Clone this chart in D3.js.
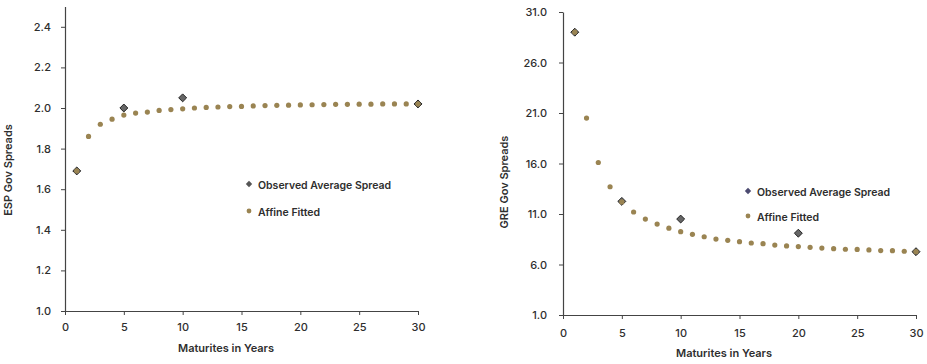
<!DOCTYPE html>
<html>
<head>
<meta charset="utf-8">
<script src="https://cdn.jsdelivr.net/npm/d3@7"></script>
<style>
  body { margin: 0; background: #fff; }
  svg { font-family: Inter, Roboto, "Noto Sans", sans-serif; }
</style>
</head>
<body>
<svg id="chart"></svg>
<script>
// maturities in years
const maturities = d3.range(1, 31);

// Spain
const espFitted = [1.69, 1.86, 1.92, 1.945, 1.965, 1.975, 1.98, 1.988, 1.992, 1.996,
    2.0, 2.003, 2.005, 2.007, 2.008, 2.01, 2.012, 2.013, 2.014, 2.015,
    2.016, 2.017, 2.018, 2.018, 2.019, 2.019, 2.02, 2.02, 2.02, 2.02];
const espObsMat = [1, 5, 10, 30];
const espObs = [1.69, 2.00, 2.05, 2.02];
const espTicks = [1.0, 1.2, 1.4, 1.6, 1.8, 2.0, 2.2, 2.4];

// Greece
const greFitted = [29.0, 20.5, 16.1, 13.7, 12.2, 11.2, 10.5, 10.0, 9.6, 9.25,
    8.99, 8.75, 8.52, 8.39, 8.26, 8.13, 8.06, 7.92, 7.84, 7.77,
    7.70, 7.63, 7.57, 7.51, 7.49, 7.44, 7.38, 7.37, 7.31, 7.27];
const greObsMat = [1, 5, 10, 20, 30];
const greObs = [29.0, 12.25, 10.5, 9.1, 7.27];
const greTicks = [1.0, 6.0, 11.0, 16.0, 21.0, 26.0, 31.0];

const xTicks = [0, 5, 10, 15, 20, 25, 30];
const legendLabels = ["Observed Average Spread", "Affine Fitted"];

const W = 927, H = 364;
const gold = "#9a8452";
const obsFill = "#666666";
const ink = "#2e2e2e";

const svg = d3.select("#chart").attr("width", W).attr("height", H);

function drawPanel(cfg) {
    const g = svg.append("g");

    const x = d3.scaleLinear().domain([0, 30]).range([cfg.left, cfg.right]);
    const y = d3.scaleLinear().domain(cfg.yDomain).range([cfg.bottom, cfg.top]);

    // axes
    const xAxis = g.append("g")
        .attr("transform", `translate(0,${cfg.bottom})`)
        .call(d3.axisBottom(x).tickValues(xTicks).tickSize(4).tickPadding(cfg.xPad).tickSizeOuter(0));
    const yAxis = g.append("g")
        .attr("transform", `translate(${cfg.left},0)`)
        .call(d3.axisLeft(y).tickValues(cfg.ticks).tickFormat(d3.format(".1f"))
            .tickSize(4).tickPadding(cfg.tickPad).tickSizeOuter(0));

    [xAxis, yAxis].forEach(a => {
        a.select(".domain").attr("stroke", "#444").attr("stroke-width", 1.2);
        a.selectAll(".tick line").attr("stroke", "#444");
        a.selectAll("text")
            .attr("fill", ink)
            .attr("font-size", 11)
            .attr("font-weight", 500)
            .attr("font-family", "Inter, sans-serif");
    });

    // axis titles
    g.append("text")
        .attr("x", cfg.xTitleX)
        .attr("y", cfg.xTitleY)
        .attr("text-anchor", "middle")
        .attr("font-size", 11)
        .attr("font-weight", 600)
        .attr("fill", ink)
        .text("Maturites in Years");

    g.append("text")
        .attr("transform", `translate(${cfg.yTitleX},${cfg.yTitleY}) rotate(-90)`)
        .attr("text-anchor", "middle")
        .attr("font-size", 11)
        .attr("font-weight", 600)
        .attr("fill", ink)
        .text(cfg.yTitle);

    const diamond = d3.symbol().type(d3.symbolDiamond2).size(40);

    // observed
    g.append("g")
        .selectAll("path")
        .data(cfg.obsMat.map((m, i) => [m, cfg.obs[i]]))
        .join("path")
        .attr("d", diamond)
        .attr("transform", d => `translate(${x(d[0])},${y(d[1])})`)
        .attr("fill", obsFill)
        .attr("stroke", "#222")
        .attr("stroke-width", 1);

    // fitted
    g.append("g")
        .selectAll("circle")
        .data(maturities.map((m, i) => [m, cfg.fitted[i]]))
        .join("circle")
        .attr("cx", d => x(d[0]))
        .attr("cy", d => y(d[1]))
        .attr("r", 2.6)
        .attr("fill", gold);

    // legend
    const lg = g.append("g").attr("transform", `translate(${cfg.legX},${cfg.legY})`);
    lg.append("path")
        .attr("d", d3.symbol().type(d3.symbolDiamond2).size(26))
        .attr("fill", cfg.legObsColor);
    lg.append("circle")
        .attr("cy", cfg.legGap)
        .attr("r", 2.4)
        .attr("fill", gold);
    lg.selectAll("text")
        .data(legendLabels)
        .join("text")
        .attr("x", 9)
        .attr("y", (d, i) => i * cfg.legGap + 5)
        .attr("font-size", 10.5)
        .attr("font-weight", 600)
        .attr("fill", ink)
        .text(d => d);
}

drawPanel({
    left: 65, right: 418, top: 6.5, bottom: 311,
    yDomain: [1.0, 2.5], ticks: espTicks, tickPad: 10, xPad: 8,
    fitted: espFitted, obsMat: espObsMat, obs: espObs,
    yTitle: "ESP Gov Spreads", yTitleX: 12, yTitleY: 170,
    xTitleX: 226, xTitleY: 352,
    legX: 249, legY: 184, legGap: 27, legObsColor: "#555"
});

drawPanel({
    left: 563, right: 916, top: 12, bottom: 315,
    yDomain: [1.0, 31.0], ticks: greTicks, tickPad: 12, xPad: 10,
    fitted: greFitted, obsMat: greObsMat, obs: greObs,
    yTitle: "GRE Gov Spreads", yTitleX: 508, yTitleY: 182,
    xTitleX: 724, xTitleY: 357,
    legX: 748, legY: 191, legGap: 25, legObsColor: "#4c4a70"
});
</script>
</body>
</html>
